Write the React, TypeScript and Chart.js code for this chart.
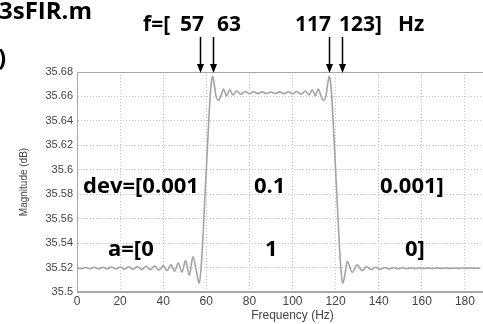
import React, { useEffect, useRef } from 'react';
import { Chart, registerables } from 'chart.js';

Chart.register(...registerables);

// Frequency response samples (Hz, dB)
const freqHz = [
  0, 2, 4, 6, 8, 10, 12, 14, 16, 18, 20, 22, 24, 26, 28, 30, 32, 34, 36, 38, 40,
  41.8, 43.6, 45.3, 47.0, 48.7, 50.4, 52.1, 53.8, 55.3, 56.7,
  57.5, 58.3, 59.2, 60.0, 60.8, 61.6, 62.3, 62.9, 63.6, 64.5, 65.6, 66.8, 68.0,
  69.4, 70.8, 72.4, 74, 76, 78, 80, 82, 84, 86, 88, 90, 92, 94, 96, 98, 100,
  102, 104, 106, 107.6, 109.2, 110.6, 112, 113.2, 114.4, 115.5, 116.4, 117.1,
  117.7, 118.4, 119.2, 120, 120.8, 121.7, 122.5, 123.3,
  124.4, 125.4, 127.7, 130.0, 132.3, 134.4, 136.5, 138.6, 140.7, 142.8, 144.9,
  147, 149, 151, 153, 155, 157, 159, 161, 163, 165, 167, 169, 171, 173, 175,
  177, 179, 181, 183, 185, 187,
];
const magDb = [
  35.5198, 35.5191, 35.5201, 35.519, 35.5202, 35.519, 35.5203, 35.5189, 35.5204, 35.5188, 35.5205,
  35.5187, 35.5206, 35.5186, 35.5208, 35.5184, 35.521, 35.5182, 35.5213, 35.5179, 35.5216,
  35.5176, 35.5224, 35.517, 35.5237, 35.5163, 35.5257, 35.5138, 35.5287, 35.518, 35.507,
  35.518, 35.54, 35.572, 35.6, 35.628, 35.655, 35.671, 35.6765, 35.671, 35.6605, 35.6568, 35.6605, 35.666,
  35.6605, 35.6655, 35.6612, 35.6645, 35.6618, 35.664, 35.6622, 35.6638, 35.6623, 35.6637, 35.6624, 35.6636, 35.6624, 35.6637, 35.6623, 35.6638, 35.6622,
  35.664, 35.6618, 35.6645, 35.6612, 35.6655, 35.6605, 35.666, 35.6605, 35.6568, 35.6605, 35.671, 35.6765,
  35.671, 35.655, 35.628, 35.6, 35.572, 35.54, 35.518, 35.507,
  35.515, 35.525, 35.5162, 35.5222, 35.5175, 35.5207, 35.5183, 35.5202, 35.5187, 35.52, 35.5189,
  35.5199, 35.519, 35.5198, 35.5191, 35.5198, 35.5191, 35.5197, 35.5192, 35.5197, 35.5192, 35.5197, 35.5193, 35.5196, 35.5193, 35.5196,
  35.5193, 35.5196, 35.5194, 35.5196, 35.5194, 35.5195,
];

const xTickValues = [0, 20, 40, 60, 80, 100, 120, 140, 160, 180, 200];
const xTickLabels = ['0', '20', '40', '60', '80', '100', '120', '140', '160', '180', '200'];
const yTickValues = [35.5, 35.52, 35.54, 35.56, 35.58, 35.6, 35.62, 35.64, 35.66, 35.68];
const yTickLabels = ['35.5', '35.52', '35.54', '35.56', '35.58', '35.6', '35.62', '35.64', '35.66', '35.68'];

const markerFreqs = [57, 63, 117, 123];

const titleText = '3sFIR.m';
const fRow = [
  { t: 'f=[', x: 143 },
  { t: '57', x: 180 },
  { t: '63', x: 217 },
  { t: '117', x: 295 },
  { t: '123]', x: 339 },
  { t: 'Hz', x: 398 },
];
const devRow = [
  { t: 'dev=[0.001', x: 83 },
  { t: '0.1', x: 254 },
  { t: '0.001]', x: 380 },
];
const aRow = [
  { t: 'a=[0', x: 108 },
  { t: '1', x: 265 },
  { t: '0]', x: 405 },
];

const overlayPlugin = {
  id: 'overlay',
  afterDraw(chart: any) {
    const { ctx, chartArea, scales } = chart;
    ctx.save();
    // plot frame
    ctx.strokeStyle = '#a8a8a8';
    ctx.lineWidth = 1;
    ctx.strokeRect(
      chartArea.left + 0.5,
      chartArea.top + 0.5,
      chartArea.right - chartArea.left - 1,
      chartArea.bottom - chartArea.top - 1
    );
    // arrows
    ctx.strokeStyle = '#000';
    ctx.fillStyle = '#000';
    ctx.lineWidth = 1.5;
    const tipY = chartArea.top + 1;
    for (const f of markerFreqs) {
      const x = Math.round(scales.x.getPixelForValue(f)) + 0.5;
      ctx.beginPath();
      ctx.moveTo(x, 37);
      ctx.lineTo(x, tipY - 6);
      ctx.stroke();
      ctx.beginPath();
      ctx.moveTo(x - 3.5, tipY - 9);
      ctx.lineTo(x + 3.5, tipY - 9);
      ctx.lineTo(x, tipY);
      ctx.closePath();
      ctx.fill();
    }
    // texts
    ctx.fillStyle = '#000';
    ctx.textAlign = 'left';
    ctx.textBaseline = 'alphabetic';
    ctx.font = '700 24px "Open Sans"';
    ctx.fillText(titleText, -1, 19);
    ctx.fillText(')', -2, 66);
    ctx.font = '700 21px "Open Sans"';
    for (const p of fRow) ctx.fillText(p.t, p.x, 31);
    ctx.font = '700 22px "Open Sans"';
    for (const p of devRow) ctx.fillText(p.t, p.x, 193);
    for (const p of aRow) ctx.fillText(p.t, p.x, 256);
    ctx.restore();
  },
};

export default function App() {
  const ref = useRef<HTMLCanvasElement | null>(null);
  useEffect(() => {
    if (!ref.current) return;
    const chart = new Chart(ref.current, {
      type: 'line',
      data: {
        datasets: [
          {
            data: freqHz.map((f, i) => ({ x: f, y: magDb[i] })),
            borderColor: '#a3a3a3',
            borderWidth: 1.6,
            pointRadius: 0,
            cubicInterpolationMode: 'monotone',
            fill: false,
          },
        ],
      },
      options: {
        responsive: false,
        animation: false,
        layout: { padding: { left: 14, top: 72, right: 3, bottom: 0 } },
        plugins: { legend: { display: false }, tooltip: { enabled: false } },
        scales: {
          x: {
            type: 'linear',
            min: 0,
            max: 200,
            afterBuildTicks: (s: any) => {
              s.ticks = xTickValues.map((v) => ({ value: v }));
            },
            afterFit: (s: any) => {
              s.height = 32;
            },
            ticks: {
              callback: (_v: any, i: number) => xTickLabels[i],
              color: '#444',
              font: { family: 'Liberation Sans', size: 12 },
              padding: 2,
              maxRotation: 0,
              autoSkip: false,
            },
            grid: { color: '#c4c4c4', drawTicks: false, lineWidth: 1 },
            border: { display: true, color: '#a8a8a8', dash: [1, 2] },
            title: {
              display: true,
              text: 'Frequency (Hz)',
              color: '#444',
              font: { family: 'Liberation Sans', size: 12 },
              padding: { top: 0, bottom: 1 },
            },
          },
          y: {
            type: 'linear',
            min: 35.5,
            max: 35.68,
            afterBuildTicks: (s: any) => {
              s.ticks = yTickValues.map((v) => ({ value: v }));
            },
            afterFit: (s: any) => {
              s.width = 63;
            },
            ticks: {
              callback: (_v: any, i: number) => yTickLabels[i],
              color: '#444',
              font: { family: 'Liberation Sans', size: 11 },
              padding: 4,
              autoSkip: false,
            },
            grid: { color: '#c4c4c4', drawTicks: false, lineWidth: 1 },
            border: { display: true, color: '#a8a8a8', dash: [1, 2] },
            title: {
              display: true,
              text: 'Magnitude (dB)',
              color: '#444',
              font: { family: 'Liberation Sans', size: 10 },
              padding: 4,
            },
          },
        },
      },
      plugins: [overlayPlugin],
    } as any);
    return () => chart.destroy();
  }, []);

  return (
    <div
      style={{
        position: 'fixed',
        left: 0,
        top: 0,
        width: 483,
        height: 324,
        overflow: 'hidden',
        background: '#fff',
      }}
    >
      <canvas ref={ref} width={520} height={324} style={{ display: 'block' }} />
    </div>
  );
}
